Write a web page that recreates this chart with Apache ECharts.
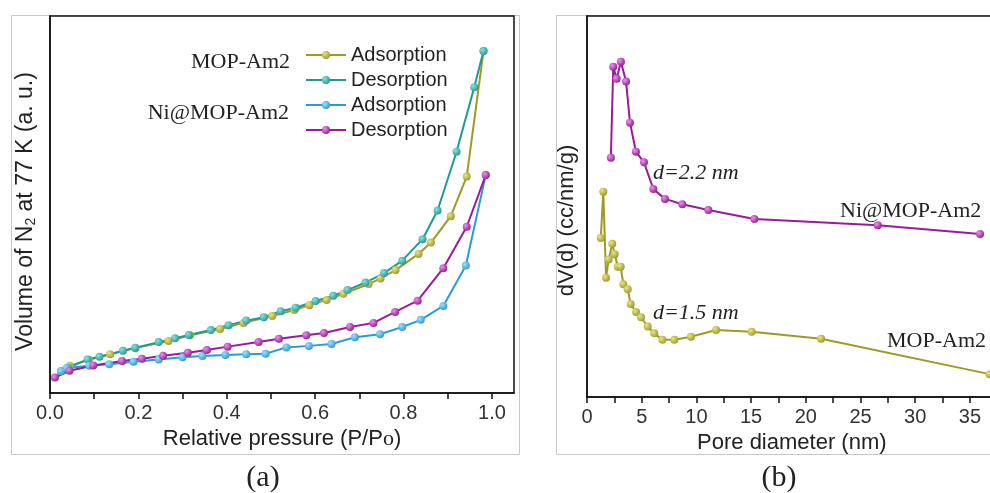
<!DOCTYPE html>
<html>
<head>
<meta charset="utf-8">
<script src="https://cdn.jsdelivr.net/npm/echarts@6/dist/echarts.min.js"></script>
<style>
  html, body { margin: 0; padding: 0; background: #fff; }
  #main { width: 990px; height: 493px; }
</style>
</head>
<body>
<div id="main"></div>
<script>
// (a) N2 isotherms, relative pressure vs volume (a.u.)
const mopAdsP = [0.025, 0.045, 0.088, 0.136, 0.193, 0.268, 0.317, 0.385, 0.438, 0.503, 0.553, 0.587, 0.626, 0.664, 0.721, 0.748, 0.782, 0.834, 0.862, 0.907, 0.943, 0.981];
const mopAdsV = [5.8, 7.2, 8.8, 10.3, 11.9, 13.8, 15.3, 17.0, 18.6, 20.4, 22.0, 23.3, 24.7, 26.3, 28.9, 30.4, 32.6, 36.9, 39.9, 46.9, 57.4, 90.7];
const mopDesP = [0.025, 0.041, 0.085, 0.112, 0.165, 0.193, 0.246, 0.283, 0.314, 0.364, 0.404, 0.444, 0.484, 0.522, 0.556, 0.601, 0.641, 0.673, 0.714, 0.756, 0.797, 0.843, 0.877, 0.920, 0.960, 0.981];
const mopDesV = [5.8, 6.7, 8.9, 9.6, 11.2, 12.0, 13.5, 14.5, 15.4, 16.7, 18.0, 19.2, 20.1, 21.7, 22.6, 24.4, 25.8, 27.3, 29.3, 31.8, 35.1, 40.8, 48.4, 64.0, 81.1, 90.7];
const niAdsP = [0.025, 0.038, 0.089, 0.134, 0.189, 0.246, 0.300, 0.345, 0.397, 0.444, 0.488, 0.535, 0.586, 0.637, 0.690, 0.747, 0.797, 0.839, 0.890, 0.941, 0.986];
const niAdsV = [5.8, 6.6, 7.2, 7.6, 8.3, 8.9, 9.5, 9.8, 10.1, 10.3, 10.4, 12.1, 12.5, 13.0, 14.8, 15.6, 17.5, 19.4, 23.1, 33.8, 57.8];
const niDesP = [0.011, 0.044, 0.098, 0.163, 0.208, 0.256, 0.312, 0.355, 0.402, 0.472, 0.518, 0.580, 0.620, 0.679, 0.732, 0.781, 0.832, 0.890, 0.943, 0.986];
const niDesV = [4.1, 5.9, 7.3, 8.5, 9.1, 9.9, 10.7, 11.4, 12.3, 13.5, 14.4, 15.3, 15.9, 17.5, 18.6, 21.5, 24.5, 33.1, 44.1, 57.8];
const pTicks = [0, 0.1, 0.2, 0.3, 0.4, 0.5, 0.6, 0.7, 0.8, 0.9, 1.0];
const pLabels = [0, 0.2, 0.4, 0.6, 0.8, 1.0];

// (b) pore size distribution, diameter (nm) vs dV(d)
const niPsdD = [2.18, 2.40, 2.71, 3.10, 3.57, 3.93, 4.47, 5.21, 6.06, 7.13, 8.71, 11.09, 15.30, 26.58, 35.93];
const niPsdV = [62.8, 86.7, 83.5, 88.0, 82.8, 72.0, 64.4, 61.6, 54.6, 52.0, 50.6, 49.1, 46.7, 45.1, 42.8];
const mopPsdD = [1.26, 1.49, 1.74, 1.98, 2.31, 2.53, 2.81, 3.08, 3.32, 3.72, 3.99, 4.48, 4.94, 5.55, 6.15, 6.89, 7.98, 9.50, 11.80, 15.05, 21.4, 36.8];
const mopPsdV = [41.7, 53.9, 31.3, 36.1, 40.2, 37.5, 34.2, 34.2, 29.6, 28.3, 24.4, 22.3, 20.9, 18.5, 16.7, 15.0, 15.0, 15.8, 17.6, 17.1, 15.3, 6.0];
const dTicks = [0, 2.5, 5, 7.5, 10, 12.5, 15, 17.5, 20, 22.5, 25, 27.5, 30, 32.5, 35, 37.5];
const dLabels = [0, 5, 10, 15, 20, 25, 30, 35];

const OLIVE = '#9d9b24', TEAL = '#1e9a95', BLUE = '#2b9bd6', PURPLE = '#991b9a';
const SANS = 'Liberation Sans', SERIF = 'Liberation Serif';

const zip = (a, b) => a.map((v, i) => [v, b[i]]);

function ball(c, light) {
  return new echarts.graphic.RadialGradient(0.35, 0.35, 0.7, [
    {offset: 0, color: light},
    {offset: 1, color: c}
  ]);
}

function line(name, data, color, light, xi) {
  return {
    name: name,
    type: 'line',
    xAxisIndex: xi, yAxisIndex: xi,
    data: data,
    symbol: 'circle',
    symbolSize: 8,
    lineStyle: {color: color, width: 2},
    itemStyle: {color: ball(color, light), borderWidth: 0},
    emphasis: {disabled: true},
    animation: false
  };
}

const axisLine = {show: true, onZero: false, lineStyle: {color: '#111', width: 1.5}};
const tickStyle = {color: '#111', width: 1.5};

const chart = echarts.init(document.getElementById('main'));
chart.setOption({
  backgroundColor: '#fff',
  animation: false,
  grid: [
    {left: 50, top: 16, width: 464, height: 377, show: true, borderColor: '#111', borderWidth: 1.5, backgroundColor: 'transparent', outerBoundsMode: 'none'},
    {left: 587, top: 16, width: 437.6, height: 381, show: true, borderColor: '#111', borderWidth: 1.5, backgroundColor: 'transparent', outerBoundsMode: 'none'}
  ],
  legend: {
    left: 300, top: 40, orient: 'vertical',
    itemWidth: 40, itemHeight: 10, itemGap: 5,
    data: ['MOP-Am2 Adsorption', 'MOP-Am2 Desorption', 'Ni@MOP-Am2 Adsorption', 'Ni@MOP-Am2 Desorption'],
    formatter: n => n.split(' ').pop(),
    textStyle: {fontFamily: SANS, fontSize: 20, color: '#222', lineHeight: 20}
  },
  xAxis: [
    {
      type: 'value', gridIndex: 0, min: 0, max: 1.05,
      axisLine: axisLine, splitLine: {show: false},
      axisTick: {show: true, inside: false, length: 6, lineStyle: tickStyle, customValues: pTicks},
      axisLabel: {
        fontFamily: SANS, fontSize: 20, color: '#333', margin: 10,
        customValues: pLabels, formatter: v => v.toFixed(1)
      },
      name: 'Relative pressure (P/P{o|o})', nameLocation: 'middle', nameGap: 34,
      nameTextStyle: {fontFamily: SANS, fontSize: 22, color: '#222', rich: {o: {fontFamily: SERIF, fontSize: 22, color: '#222'}}}
    },
    {
      type: 'value', gridIndex: 1, min: 0, max: 40,
      axisLine: axisLine, splitLine: {show: false},
      axisTick: {show: true, inside: false, length: 6, lineStyle: tickStyle, customValues: dTicks},
      axisLabel: {
        fontFamily: SANS, fontSize: 20, color: '#333', margin: 10,
        customValues: dLabels
      },
      name: 'Pore diameter (nm)', nameLocation: 'middle', nameGap: 30,
      nameTextStyle: {fontFamily: SANS, fontSize: 22, color: '#222', padding: [0, 28, 0, 0]}
    }
  ],
  yAxis: [
    {
      type: 'value', gridIndex: 0, min: 0, max: 100,
      axisLine: axisLine, axisTick: {show: false}, axisLabel: {show: false}, splitLine: {show: false},
      name: 'Volume of N{s|2} at 77 K (a. u.)', nameLocation: 'middle', nameGap: 12,
      nameTextStyle: {fontFamily: SANS, fontSize: 23, color: '#222', padding: [0, 14, 0, 0],
        rich: {s: {fontFamily: SANS, fontSize: 14, color: '#222', padding: [11, 0, 0, 0]}}}
    },
    {
      type: 'value', gridIndex: 1, min: 0, max: 100,
      axisLine: axisLine, axisTick: {show: false}, axisLabel: {show: false}, splitLine: {show: false},
      name: 'dV(d) (cc/nm/g)', nameLocation: 'middle', nameGap: 9,
      nameTextStyle: {fontFamily: SANS, fontSize: 22, color: '#222', padding: [0, 28, 0, 0]}
    }
  ],
  graphic: [
    {type: 'rect', left: 9, top: 13, z: -10, shape: {width: 508, height: 439}, style: {fill: 'none', stroke: '#c8c8c8', lineWidth: 1}},
    {type: 'rect', left: 554, top: 13, z: -10, shape: {width: 460, height: 439}, style: {fill: 'none', stroke: '#c8c8c8', lineWidth: 1}},
    {type: 'text', x: 290, y: 62, style: {text: 'MOP-Am2', font: '22px "Liberation Serif"', fill: '#222', textAlign: 'right', textVerticalAlign: 'middle'}},
    {type: 'text', x: 289, y: 113, style: {text: 'Ni@MOP-Am2', font: '22px "Liberation Serif"', fill: '#222', textAlign: 'right', textVerticalAlign: 'middle'}},
    {type: 'text', x: 653, y: 173, style: {text: 'd=2.2 nm', font: 'italic 22px "Liberation Serif"', fill: '#222', textAlign: 'left', textVerticalAlign: 'middle'}},
    {type: 'text', x: 653, y: 313, style: {text: 'd=1.5 nm', font: 'italic 22px "Liberation Serif"', fill: '#222', textAlign: 'left', textVerticalAlign: 'middle'}},
    {type: 'text', x: 840, y: 211, style: {text: 'Ni@MOP-Am2', font: '22px "Liberation Serif"', fill: '#222', textAlign: 'left', textVerticalAlign: 'middle'}},
    {type: 'text', x: 887, y: 341, style: {text: 'MOP-Am2', font: '22px "Liberation Serif"', fill: '#222', textAlign: 'left', textVerticalAlign: 'middle'}},
    {type: 'text', x: 263, y: 478, style: {text: '(a)', font: '30px "Liberation Serif"', fill: '#222', textAlign: 'center', textVerticalAlign: 'middle'}},
    {type: 'text', x: 779, y: 478, style: {text: '(b)', font: '30px "Liberation Serif"', fill: '#222', textAlign: 'center', textVerticalAlign: 'middle'}}
  ],
  series: [
    line('MOP-Am2 Adsorption', zip(mopAdsP, mopAdsV), OLIVE, '#e6e58a', 0),
    line('MOP-Am2 Desorption', zip(mopDesP, mopDesV), TEAL, '#8fe0dc', 0),
    line('Ni@MOP-Am2 Adsorption', zip(niAdsP, niAdsV), BLUE, '#a6dcf7', 0),
    line('Ni@MOP-Am2 Desorption', zip(niDesP, niDesV), PURPLE, '#e596e6', 0),
    line('Ni@MOP-Am2 PSD', zip(niPsdD, niPsdV), PURPLE, '#e596e6', 1),
    line('MOP-Am2 PSD', zip(mopPsdD, mopPsdV), OLIVE, '#e6e58a', 1)
  ]
});
</script>
</body>
</html>
